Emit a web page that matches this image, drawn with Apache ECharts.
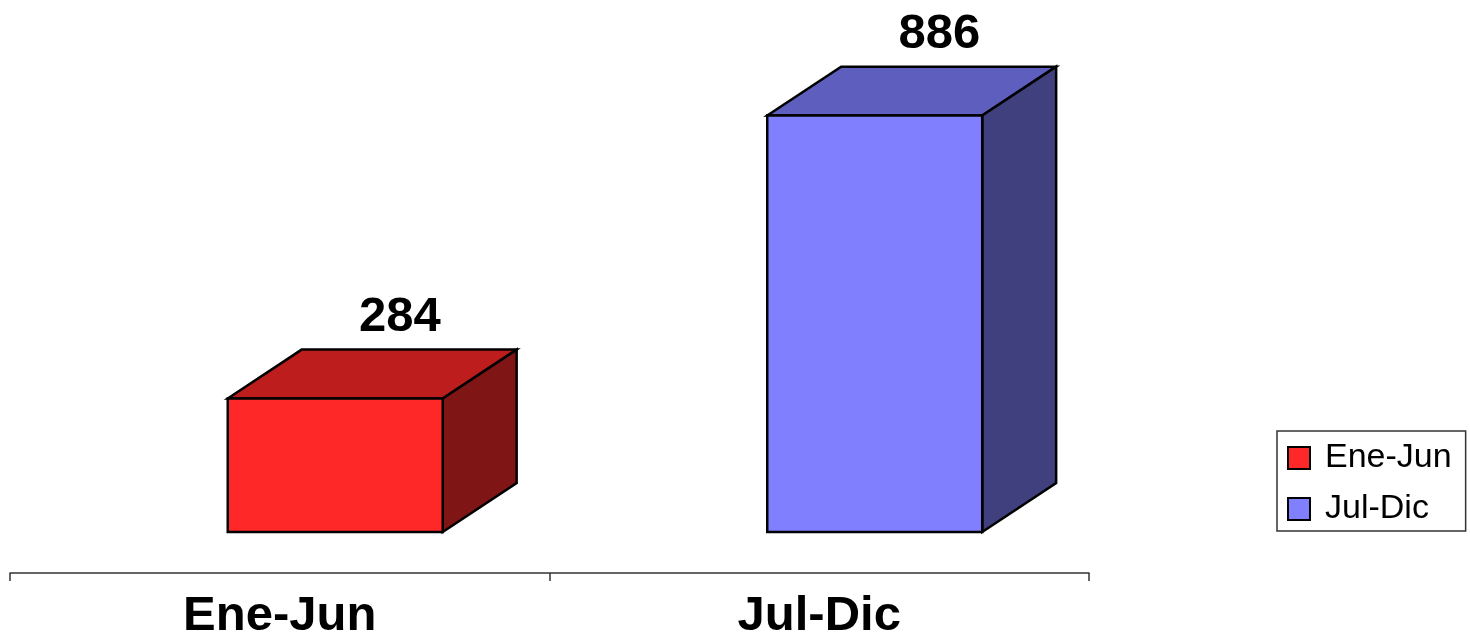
<!DOCTYPE html>
<html>
<head>
<meta charset="utf-8">
<script src="https://cdn.jsdelivr.net/npm/echarts@6/dist/echarts.min.js"></script>
<style>
  html, body { margin: 0; padding: 0; background: #fff; }
  #chart { width: 1470px; height: 637px; }
</style>
</head>
<body>
<div id="chart"></div>
<script>
// periodos y totales
var categories = ['Ene-Jun', 'Jul-Dic'];
var values = [284, 886];

// colores de cada caja: frente, tapa, lado
var faceColors = [
    ['#ff2828', '#be1d1d', '#801515'],
    ['#8080ff', '#5e5ebe', '#40407f']
];

function renderBox(params, api) {
    var cat = api.value(0);
    var val = api.value(1);
    var top = api.coord([cat, val]);
    var base = api.coord([cat, 0]);
    var bw = api.size([1, 0])[0];
    var x0 = top[0] - bw * 0.0964;
    var x1 = x0 + bw * 0.3985;
    var dx = bw * 0.137;
    var dy = dx * 0.662;
    var yT = top[1];
    var yB = base[1];
    var c = faceColors[params.seriesIndex];
    var edge = { stroke: '#000', lineWidth: 2.5, lineJoin: 'miter' };
    return {
        type: 'group',
        children: [
            {
                type: 'polygon',
                shape: { points: [[x0, yT], [x0 + dx, yT - dy], [x1 + dx, yT - dy], [x1, yT]] },
                style: Object.assign({ fill: c[1] }, edge)
            },
            {
                type: 'polygon',
                shape: { points: [[x1, yT], [x1 + dx, yT - dy], [x1 + dx, yB - dy], [x1, yB]] },
                style: Object.assign({ fill: c[2] }, edge)
            },
            {
                type: 'rect',
                shape: { x: x0, y: yT, width: x1 - x0, height: yB - yT },
                style: Object.assign({ fill: c[0] }, edge)
            },
            {
                type: 'text',
                x: x0 + bw * 0.319,
                y: yT - dy - 8,
                style: {
                    text: String(val),
                    font: 'bold 49px "Liberation Sans", Arial, sans-serif',
                    fill: '#000',
                    align: 'center',
                    verticalAlign: 'bottom'
                }
            }
        ]
    };
}

var series = categories.map(function (name, i) {
    return {
        name: name,
        type: 'custom',
        renderItem: renderBox,
        itemStyle: { color: faceColors[i][0] },
        data: [[i, values[i]]]
    };
});

var option = {
    backgroundColor: '#fff',
    animation: false,
    grid: { left: 10, right: 381, top: 62, bottom: 105, outerBoundsMode: 'none' },
    legend: {
        orient: 'vertical',
        left: 1277,
        top: 431,
        padding: [10, 14, 5, 10],
        itemGap: 17,
        itemWidth: 22,
        itemHeight: 22,
        borderColor: '#333',
        borderWidth: 1.5,
        icon: 'rect',
        textStyle: {
            color: '#000',
            fontSize: 34,
            fontFamily: '"Liberation Sans", Arial, sans-serif',
            padding: [0, 0, 0, 10]
        },
        data: categories.map(function (name) {
            return { name: name, itemStyle: { borderColor: '#000', borderWidth: 2 } };
        })
    },
    xAxis: {
        type: 'category',
        data: categories,
        offset: 41,
        axisLine: { onZero: false, lineStyle: { color: '#333', width: 1.5 } },
        axisTick: { show: true, length: 8, lineStyle: { color: '#333', width: 1.5 } },
        axisLabel: {
            color: '#000',
            fontSize: 49,
            fontWeight: 'bold',
            fontFamily: '"Liberation Sans", Arial, sans-serif',
            margin: 19
        },
        splitLine: { show: false }
    },
    yAxis: {
        type: 'value',
        min: 0,
        max: 1000,
        show: false
    },
    series: series
};

var chart = echarts.init(document.getElementById('chart'));
chart.setOption(option);
</script>
</body>
</html>
